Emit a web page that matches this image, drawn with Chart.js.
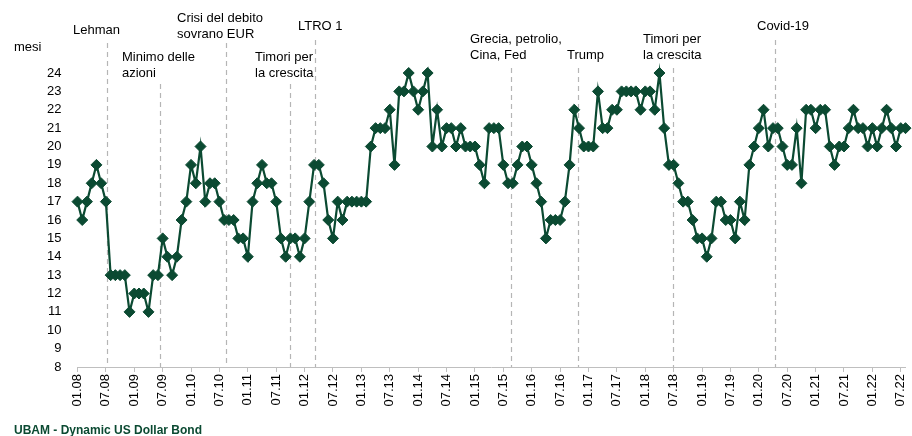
<!DOCTYPE html>
<html>
<head>
<meta charset="utf-8">
<script src="https://cdn.jsdelivr.net/npm/chart.js@4.4.1/dist/chart.umd.min.js"></script>
<style>
  html, body { margin: 0; padding: 0; background: #fff; }
  #wrap { width: 912px; height: 436px; position: relative; }
</style>
</head>
<body>
<div id="wrap"><canvas id="chart"></canvas></div>
<script>
// durata in mesi, dati mensili da 01.08 a 08.22
var months = [];
for (var y = 8; y <= 22; y++) {
    for (var m = 1; m <= 12; m++) {
        if (y === 22 && m > 8) break;
        months.push((m < 10 ? '0' + m : '' + m) + '.' + (y < 10 ? '0' + y : '' + y));
    }
}

var duration = [
    17, 16, 17, 18, 19, 18, 17, 13, 13, 13, 13, 11, 12, 12, 12, 11, 13, 13, 15, 14,
    13, 14, 16, 17, 19, 18, 20, 17, 18, 18, 17, 16, 16, 16, 15, 15, 14, 17, 18, 19,
    18, 18, 17, 15, 14, 15, 15, 14, 15, 17, 19, 19, 18, 16, 15, 17, 16, 17, 17, 17,
    17, 17, 20, 21, 21, 21, 22, 19, 23, 23, 24, 23, 22, 23, 24, 20, 22, 20, 21, 21,
    20, 21, 20, 20, 20, 19, 18, 21, 21, 21, 19, 18, 18, 19, 20, 20, 19, 18, 17, 15,
    16, 16, 16, 17, 19, 22, 21, 20, 20, 20, 23, 21, 21, 22, 22, 23, 23, 23, 23, 22,
    23, 23, 22, 24, 21, 19, 19, 18, 17, 17, 16, 15, 15, 14, 15, 17, 17, 16, 16, 15,
    17, 16, 19, 20, 21, 22, 20, 21, 21, 20, 19, 19, 21, 18, 22, 22, 21, 22, 22, 20,
    19, 20, 20, 21, 22, 21, 21, 20, 21, 20, 21, 22, 21, 20, 21, 21
];

// eventi (posizione in mesi dall'inizio)
var eventMonths = [6.2, 17.4, 31.3, 44.9, 50.2, 91.7, 105.8, 125.8, 147.5];
var eventNames = [
    ['Lehman'],
    ['Minimo delle', 'azioni'],
    ['Crisi del debito', 'sovrano EUR'],
    ['Timori per', 'la crescita'],
    ['LTRO 1'],
    ['Grecia, petrolio,', 'Cina, Fed'],
    ['Trump'],
    ['Timori per', 'la crescita'],
    ['Covid-19']
];

// posizione dei testi
var textPos = [[73, 30], [122, 57], [177, 18], [255, 57], [298, 26], [470, 39], [567, 55], [643, 39], [757, 26]];
var lineTop = [43, 84, 43, 84, 40, 68, 68, 68, 40];

var green = '#0b4a32';
var fontFam = '"Liberation Sans", Arial, sans-serif';

var eventsPlugin = {
    id: 'events',
    beforeDatasetsDraw: function(chart) {
        var ctx = chart.ctx;
        var xs = chart.scales.x;
        var bottom = chart.chartArea.bottom;
        ctx.save();
        ctx.strokeStyle = '#b5b5b5';
        ctx.lineWidth = 1.2;
        ctx.setLineDash([5, 4]);
        for (var i = 0; i < eventMonths.length; i++) {
            var px = Math.round(xs.getPixelForValue(eventMonths[i])) + 0.5;
            ctx.beginPath();
            ctx.moveTo(px, lineTop[i]);
            ctx.lineTo(px, bottom);
            ctx.stroke();
        }
        ctx.restore();
    },
    afterDraw: function(chart) {
        var ctx = chart.ctx;
        ctx.save();
        ctx.fillStyle = '#000';
        ctx.font = '13px ' + fontFam;
        ctx.textBaseline = 'middle';
        ctx.textAlign = 'left';
        for (var i = 0; i < eventNames.length; i++) {
            for (var j = 0; j < eventNames[i].length; j++) {
                ctx.fillText(eventNames[i][j], textPos[i][0], textPos[i][1] + j * 16);
            }
        }
        ctx.fillText('mesi', 14, 47);
        ctx.fillStyle = green;
        ctx.font = 'bold 12px ' + fontFam;
        ctx.fillText('UBAM - Dynamic US Dollar Bond', 14, 431);
        ctx.restore();
    }
};

var ctx = document.getElementById('chart').getContext('2d');
var myChart = new Chart(ctx, {
    type: 'line',
    data: {
        labels: months,
        datasets: [{
            data: duration,
            borderColor: green,
            backgroundColor: green,
            borderWidth: 2.2,
            tension: 0,
            pointStyle: 'rectRot',
            pointRadius: 5.5,
            pointBorderWidth: 1,
            pointBackgroundColor: green,
            pointBorderColor: green,
            clip: false
        }]
    },
    options: {
        responsive: true,
        maintainAspectRatio: false,
        animation: false,
        layout: { padding: { top: 73, right: 3, left: 0, bottom: 0 } },
        plugins: {
            legend: { display: false },
            tooltip: { enabled: false }
        },
        scales: {
            x: {
                offset: false,
                grid: {
                    display: true,
                    drawOnChartArea: false,
                    drawTicks: true,
                    tickLength: 5,
                    tickColor: '#bfbfbf'
                },
                border: { display: true, color: '#bfbfbf', width: 1 },
                ticks: {
                    autoSkip: false,
                    maxRotation: 90,
                    minRotation: 90,
                    padding: 2,
                    color: '#000',
                    font: { size: 13, family: fontFam },
                    callback: function(value, index) {
                        return index % 6 === 0 ? this.getLabelForValue(value) : null;
                    }
                },
                afterFit: function(scale) {
                    scale.height = 69;
                    scale.paddingLeft = 0;
                    scale.paddingRight = 0;
                }
            },
            y: {
                min: 8,
                max: 24,
                grid: { display: false },
                border: { display: false },
                ticks: {
                    stepSize: 1,
                    autoSkip: false,
                    padding: 8,
                    color: '#000',
                    font: { size: 13, family: fontFam }
                },
                afterFit: function(scale) {
                    scale.width = 77.5;
                    scale.paddingTop = 0;
                    scale.paddingBottom = 0;
                }
            }
        }
    },
    plugins: [eventsPlugin]
});
</script>
</body>
</html>
